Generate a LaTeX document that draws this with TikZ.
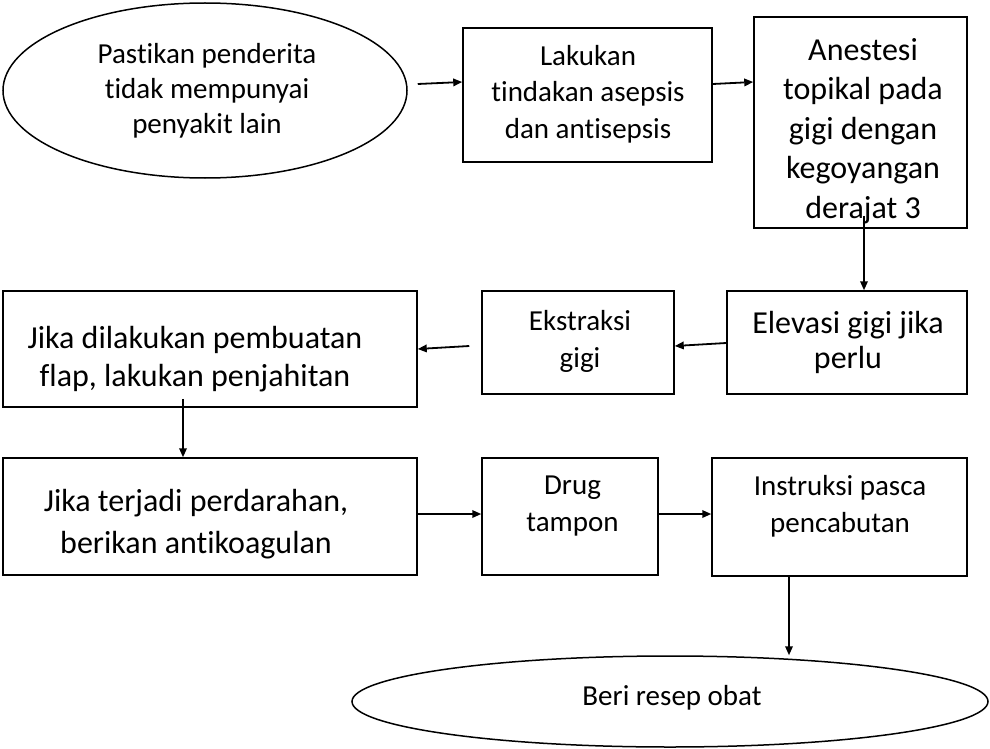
\documentclass[tikz,border=0pt]{standalone}
\usepackage{fontspec}
\setmainfont{Carlito}[Ligatures=NoCommon]
\usetikzlibrary{shapes.geometric,arrows.meta}
\begin{document}
\begin{tikzpicture}[x=1pt,y=-1pt,
  box/.style={draw,line width=1.5pt,inner sep=0pt},
  ell/.style={draw,ellipse,line width=1.5pt,inner sep=0pt},
  txt/.style={align=center,inner sep=0pt},
  arr/.style={-{Triangle[length=9pt,width=7.5pt]},line width=1.8pt}]
\useasboundingbox (0,0) rectangle (990,749);
% shapes
\node[ell,minimum width=404pt,minimum height=175pt] (e1) at (205,90.5) {};
\node[box,minimum width=249pt,minimum height=134pt] (b1) at (587.5,95) {};
\node[box,minimum width=213pt,minimum height=211pt] (b2) at (860.5,122.5) {};
\node[box,minimum width=240pt,minimum height=103pt] (b3) at (847,342.5) {};
\node[box,minimum width=192pt,minimum height=103pt] (b4) at (578,342.5) {};
\node[box,minimum width=414pt,minimum height=116pt] (b5) at (210,349) {};
\node[box,minimum width=414pt,minimum height=117pt] (b6) at (210,516.5) {};
\node[box,minimum width=176pt,minimum height=117pt] (b7) at (570,516.5) {};
\node[box,minimum width=255pt,minimum height=118pt] (b8) at (839.5,517) {};
\node[ell,minimum width=636pt,minimum height=91pt] (e2) at (670,701.5) {};
% texts
\node[txt,font=\fontsize{29}{35}\selectfont] (t1) at (207,91) {Pastikan penderita\\tidak mempunyai\\penyakit lain};
\node[txt,font=\fontsize{29}{36.5}\selectfont] (t2) at (588,94) {Lakukan\\tindakan asepsis\\dan antisepsis};
\node[txt,font=\fontsize{32}{39.5}\selectfont] (t3) at (863,131) {Anestesi\\topikal pada\\gigi dengan\\kegoyangan\\derajat 3};
\node[txt,font=\fontsize{32}{35}\selectfont] (t4) at (848,342) {Elevasi gigi jika\\perlu};
\node[txt,font=\fontsize{29}{37}\selectfont] (t5) at (580,341) {Ekstraksi\\gigi};
\node[txt,font=\fontsize{32}{38}\selectfont] (t6) at (195,359) {Jika dilakukan pembuatan\\flap, lakukan penjahitan};
\node[txt,font=\fontsize{32}{42}\selectfont] (t7) at (196,524) {Jika terjadi perdarahan,\\berikan antikoagulan};
\node[txt,font=\fontsize{29}{37}\selectfont] (t8) at (572.5,506) {Drug\\tampon};
\node[txt,font=\fontsize{29}{37}\selectfont] (t9) at (840,506) {Instruksi pasca\\pencabutan};
\node[txt,font=\fontsize{29}{36}\selectfont] (t10) at (672,698) {Beri resep obat};
% connectors
\draw[arr] ([xshift=10pt,yshift=6.5pt]e1.east) -- ([yshift=13pt]b1.west);
\draw[arr] ([yshift=11pt]b1.east) -- ([yshift=40.5pt]b2.west);
\draw[arr] ([xshift=3.5pt,yshift=13pt]b2.south) -- ([xshift=17pt]b3.north);
\draw[arr] ([yshift=-0.5pt]b3.west) -- ([yshift=-3.5pt]b4.east);
\draw[arr] ([xshift=-12pt,yshift=-3.5pt]b4.west) -- (b5.east);
\draw[arr] ([xshift=-27pt,yshift=9pt]b5.south) -- ([xshift=-27pt]b6.north);
\draw[arr] ([yshift=2.5pt]b6.east) -- ([yshift=2.5pt]b7.west);
\draw[arr] ([yshift=2.5pt]b7.east) -- ([yshift=3pt]b8.west);
\draw[arr] ([xshift=-50.5pt]b8.south) -- ([xshift=119pt]e2.north);
\end{tikzpicture}
\end{document}
